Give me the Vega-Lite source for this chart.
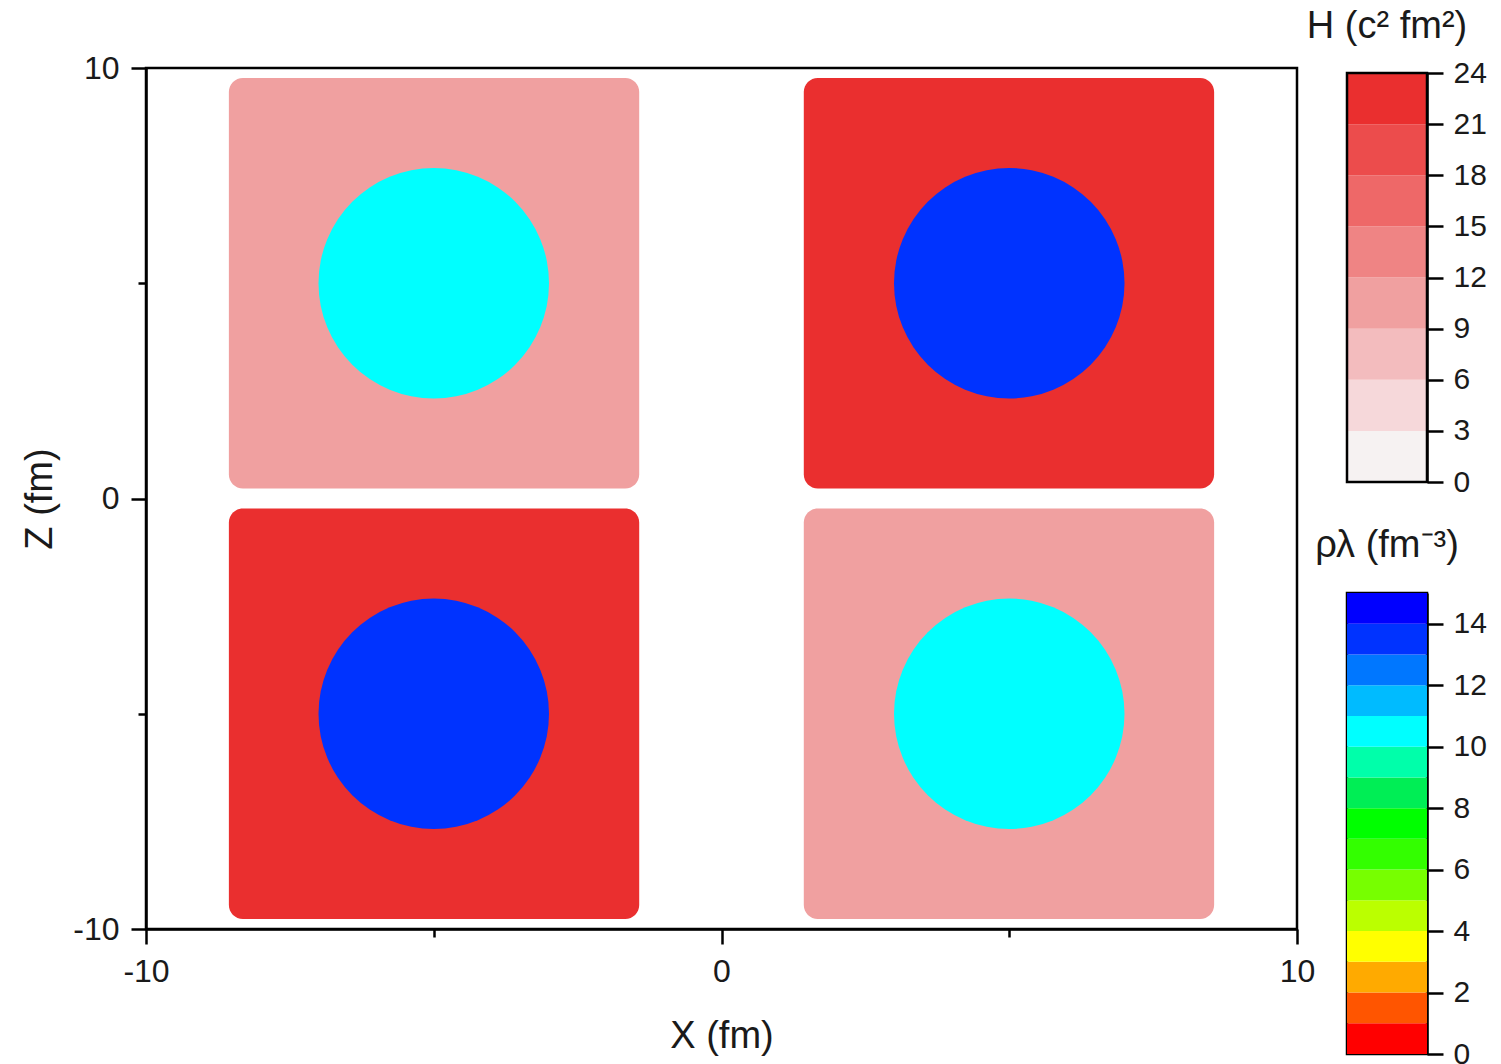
{
  "$schema": "https://vega.github.io/schema/vega-lite/v6.json",
  "padding": {"left": 20, "top": 8, "right": 0, "bottom": 0},
  "background": "white",
  "datasets": {
    "squares": [
      {"x0": -8.56, "x1": -1.43, "z0": 0.23, "z1": 9.77, "H": 10.5},
      {"x0": 1.43, "x1": 8.56, "z0": 0.23, "z1": 9.77, "H": 22.5},
      {"x0": -8.56, "x1": -1.43, "z0": -9.77, "z1": -0.23, "H": 22.5},
      {"x0": 1.43, "x1": 8.56, "z0": -9.77, "z1": -0.23, "H": 10.5}
    ],
    "blobs": [
      {"x": -5, "z": 5, "rho": 10.5},
      {"x": 5, "z": 5, "rho": 13.5},
      {"x": -5, "z": -5, "rho": 13.5},
      {"x": 5, "z": -5, "rho": 10.5}
    ],
    "hbands": [
      {"h0": 0, "h1": 3}, {"h0": 3, "h1": 6}, {"h0": 6, "h1": 9}, {"h0": 9, "h1": 12},
      {"h0": 12, "h1": 15}, {"h0": 15, "h1": 18}, {"h0": 18, "h1": 21}, {"h0": 21, "h1": 24}
    ],
    "rbands": [
      {"r0": 0, "r1": 1}, {"r0": 1, "r1": 2}, {"r0": 2, "r1": 3}, {"r0": 3, "r1": 4},
      {"r0": 4, "r1": 5}, {"r0": 5, "r1": 6}, {"r0": 6, "r1": 7}, {"r0": 7, "r1": 8},
      {"r0": 8, "r1": 9}, {"r0": 9, "r1": 10}, {"r0": 10, "r1": 11}, {"r0": 11, "r1": 12},
      {"r0": 12, "r1": 13}, {"r0": 13, "r1": 14}, {"r0": 14, "r1": 15}
    ],
    "one": [{}]
  },
  "hconcat": [
    {
      "width": 1151,
      "height": 861,
      "view": {"stroke": "black", "strokeWidth": 2.5},
      "layer": [
        {
          "data": {"name": "squares"},
          "mark": {"type": "rect", "cornerRadius": 14},
          "encoding": {
            "x": {"field": "x0", "type": "quantitative",
              "scale": {"domain": [-10, 10], "nice": false, "zero": false},
              "axis": {
                "values": [-10, -5, 0, 5, 10],
                "tickSize": {"condition": {"test": "abs(datum.value) == 5", "value": 8}, "value": 15},
                "labelExpr": "abs(datum.value) == 5 ? '' : (datum.value < 0 ? '-' + abs(datum.value) : '' + datum.value)",
                "labelFlush": false, "labelOverlap": false,
                "labelPadding": 12, "labelFontSize": 32,
                "title": "X (fm)", "titleFontSize": 38, "titlePadding": 30
              }},
            "x2": {"field": "x1"},
            "y": {"field": "z0", "type": "quantitative",
              "scale": {"domain": [-10, 10], "nice": false, "zero": false},
              "axis": {
                "values": [-10, -5, 0, 5, 10],
                "tickSize": {"condition": {"test": "abs(datum.value) == 5", "value": 8}, "value": 15},
                "labelExpr": "abs(datum.value) == 5 ? '' : (datum.value < 0 ? '-' + abs(datum.value) : '' + datum.value)",
                "labelFlush": false, "labelOverlap": false,
                "labelPadding": 12, "labelFontSize": 32,
                "title": "Z (fm)", "titleFontSize": 38, "titlePadding": 13
              }},
            "y2": {"field": "z1"},
            "color": {"field": "H", "type": "quantitative",
              "scale": {"type": "threshold", "domain": [3, 6, 9, 12, 15, 18, 21],
                "range": ["#F6F2F2", "#F6D8DA", "#F3BCBE", "#F0A0A0", "#EF8484", "#EE6868", "#EC4C4C", "#EA2F2F"]},
              "legend": null}
          }
        },
        {
          "data": {"name": "blobs"},
          "mark": {"type": "circle", "size": 53130, "opacity": 1},
          "encoding": {
            "x": {"field": "x", "type": "quantitative"},
            "y": {"field": "z", "type": "quantitative"},
            "color": {"field": "rho", "type": "quantitative",
              "scale": {"type": "threshold", "domain": [1, 2, 3, 4, 5, 6, 7, 8, 9, 10, 11, 12, 13, 14],
                "range": ["#FF0000", "#FF5500", "#FFAA00", "#FFFF00", "#BBFF00", "#77FF00", "#33FF00", "#00FF00", "#00EE55", "#00FFAA", "#00FFFF", "#00BBFF", "#0077FF", "#0033FF", "#0000FF"]},
              "legend": null}
          }
        }
      ],
      "resolve": {"scale": {"color": "independent"}}
    },
    {
      "vconcat": [
        {
          "width": 80,
          "height": 414,
          "view": {"stroke": null},
          "title": {"text": "H (c² fm²)", "fontSize": 38, "offset": 12, "anchor": "middle", "fontWeight": "normal", "color": "#1a1a1a"},
          "layer": [
            {
              "data": {"name": "hbands"},
              "mark": "rect",
              "encoding": {
                "y": {"field": "h0", "type": "quantitative",
                  "scale": {"domain": [0, 24], "range": [414, 5], "nice": false, "zero": false},
                  "axis": {"orient": "right", "values": [0, 3, 6, 9, 12, 15, 18, 21, 24], "tickSize": 16,
                    "labelPadding": 10, "labelFontSize": 30, "title": null, "labelOverlap": false, "labelFlush": false}},
                "y2": {"field": "h1"},
                "color": {"field": "h0", "type": "quantitative",
                  "scale": {"type": "threshold", "domain": [3, 6, 9, 12, 15, 18, 21],
                    "range": ["#F6F2F2", "#F6D8DA", "#F3BCBE", "#F0A0A0", "#EF8484", "#EE6868", "#EC4C4C", "#EA2F2F"]},
                  "legend": null}
              }
            },
            {
              "data": {"name": "one"},
              "mark": {"type": "rect", "fillOpacity": 0, "stroke": "black", "strokeWidth": 2.5},
              "encoding": {"y": {"datum": 0}, "y2": {"datum": 24}}
            }
          ]
        },
        {
          "width": 80,
          "height": 461,
          "view": {"stroke": "black", "strokeWidth": 2.5},
          "title": {"text": "ρλ (fm⁻³)", "fontSize": 38, "offset": 28, "anchor": "middle", "fontWeight": "normal", "color": "#1a1a1a"},
          "data": {"name": "rbands"},
          "mark": "rect",
          "encoding": {
            "y": {"field": "r0", "type": "quantitative",
              "scale": {"domain": [0, 15], "nice": false, "zero": false},
              "axis": {"orient": "right", "values": [0, 2, 4, 6, 8, 10, 12, 14], "tickSize": 16,
                "labelPadding": 10, "labelFontSize": 30, "title": null, "labelOverlap": false, "labelFlush": false}},
            "y2": {"field": "r1"},
            "color": {"field": "r0", "type": "quantitative",
              "scale": {"type": "threshold", "domain": [1, 2, 3, 4, 5, 6, 7, 8, 9, 10, 11, 12, 13, 14],
                "range": ["#FF0000", "#FF5500", "#FFAA00", "#FFFF00", "#BBFF00", "#77FF00", "#33FF00", "#00FF00", "#00EE55", "#00FFAA", "#00FFFF", "#00BBFF", "#0077FF", "#0033FF", "#0000FF"]},
              "legend": null}
          }
        }
      ],
      "spacing": 111,
      "bounds": "flush",
      "resolve": {"scale": {"color": "independent"}}
    }
  ],
  "spacing": 50,
  "bounds": "flush",
  "resolve": {"scale": {"color": "independent"}},
  "config": {
    "font": "Liberation Sans",
    "axis": {
      "grid": false,
      "domainColor": "black", "domainWidth": 2.5,
      "tickColor": "black", "tickWidth": 2.5,
      "labelColor": "#1a1a1a", "titleColor": "#1a1a1a",
      "titleFontWeight": "normal"
    },
    "title": {"fontWeight": "normal"}
  }
}
